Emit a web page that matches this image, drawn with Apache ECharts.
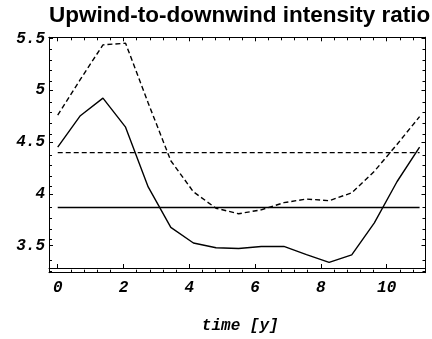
<!DOCTYPE html>
<html>
<head>
<meta charset="utf-8">
<script src="https://cdn.jsdelivr.net/npm/echarts@6/dist/echarts.min.js"></script>
<style>
  html, body { margin: 0; padding: 0; background: #fff; }
  #chart { width: 432px; height: 339px; }
</style>
</head>
<body>
<div id="chart"></div>
<script>
// Sample times in years
const times = [0, 0.6875, 1.375, 2.0625, 2.75, 3.4375, 4.125, 4.8125, 5.5,
               6.1875, 6.875, 7.5625, 8.25, 8.9375, 9.625, 10.3125, 11];
// Intensity ratio curves
const ratioSolid = [4.453, 4.756, 4.926, 4.645, 4.068, 3.677, 3.526, 3.481, 3.474,
                    3.493, 3.493, 3.415, 3.339, 3.412, 3.721, 4.118, 4.453];
const ratioDashed = [4.762, 5.106, 5.440, 5.456, 4.879, 4.321, 4.021, 3.862, 3.809,
                     3.847, 3.916, 3.951, 3.935, 4.011, 4.219, 4.478, 4.747];
// Reference levels (horizontal lines)
const levelSolid = 3.869;
const levelDashed = 4.399;
// Tick positions
const xMajorTicks = [0, 2, 4, 6, 8, 10];
const xMinorTicks = [0.4, 0.8, 1.2, 1.6, 2.4, 2.8, 3.2, 3.6, 4.4, 4.8, 5.2, 5.6,
                     6.4, 6.8, 7.2, 7.6, 8.4, 8.8, 9.2, 9.6, 10.4, 10.8];
const yMajorTicks = [3.5, 4, 4.5, 5, 5.5];
const yMinorTicks = [3.3, 3.4, 3.6, 3.7, 3.8, 3.9, 4.1, 4.2, 4.3, 4.4, 4.6, 4.7,
                     4.8, 4.9, 5.1, 5.2, 5.3, 5.4];
const xRange = [-0.265, 11.18];
const yRange = [3.285, 5.513];

const monoFont = '"Liberation Mono", "DejaVu Sans Mono", monospace';

function pairs(xs, ys) { return xs.map((x, i) => [x, ys[i]]); }

const gridRect = { left: 49, right: 6.5, top: 37.3, bottom: 66.3, containLabel: false };

function xAxisDef(gridIndex, position, ticks, labels, extra) {
  return Object.assign({
    type: 'value', gridIndex, position, min: xRange[0], max: xRange[1],
    axisLine: { show: true, onZero: false, lineStyle: { color: '#000', width: 1 } },
    axisTick: { show: true, inside: true, length: ticks === xMajorTicks ? 4 : 3,
                customValues: ticks, lineStyle: { color: '#000', width: 1 } },
    axisLabel: labels ? {
      show: true, customValues: labels, margin: 12,
      fontFamily: monoFont, fontStyle: 'italic', fontWeight: 'bold', fontSize: 16, color: '#000'
    } : { show: false, customValues: ticks },
    splitLine: { show: false }
  }, extra || {});
}

function yAxisDef(gridIndex, position, ticks, labels) {
  return {
    type: 'value', gridIndex, position, min: yRange[0], max: yRange[1],
    axisLine: { show: true, onZero: false, lineStyle: { color: '#000', width: 1 } },
    axisTick: { show: true, inside: true, length: ticks === yMajorTicks ? 4 : 3,
                customValues: ticks, lineStyle: { color: '#000', width: 1 } },
    axisLabel: labels ? {
      show: true, customValues: labels, margin: 4,
      fontFamily: monoFont, fontStyle: 'italic', fontWeight: 'bold', fontSize: 16, color: '#000'
    } : { show: false, customValues: ticks },
    splitLine: { show: false }
  };
}

const chart = echarts.init(document.getElementById('chart'), null, { renderer: 'canvas' });

const solidStyle = { color: '#000', width: 1.4, type: 'solid' };
const dashedStyle = { color: '#000', width: 1.4, type: [5, 3] };

function lineSeries(data, style) {
  return {
    type: 'line', xAxisIndex: 0, yAxisIndex: 0, data,
    showSymbol: false, symbol: 'none', silent: true, animation: false,
    lineStyle: style
  };
}

chart.setOption({
  animation: false,
  backgroundColor: '#fff',
  title: {
    text: 'Upwind-to-downwind intensity ratio',
    left: 44, top: -1,
    textStyle: { fontFamily: '"Liberation Sans", Arial, sans-serif', fontWeight: 'bold',
                 fontSize: 22.5, color: '#000' }
  },
  grid: [Object.assign({}, gridRect), Object.assign({}, gridRect)],
  xAxis: [
    xAxisDef(0, 'bottom', xMajorTicks, xMajorTicks, {
      name: 'time [y]', nameLocation: 'middle', nameGap: 50,
      nameTextStyle: { fontFamily: monoFont, fontStyle: 'italic', fontWeight: 'bold',
                       fontSize: 16, color: '#000', padding: [0, 0, 0, 6] }
    }),
    xAxisDef(0, 'top', xMajorTicks, null),
    xAxisDef(1, 'bottom', xMinorTicks, null),
    xAxisDef(1, 'top', xMinorTicks, null)
  ],
  yAxis: [
    yAxisDef(0, 'left', yMajorTicks, yMajorTicks),
    yAxisDef(0, 'right', yMajorTicks, null),
    yAxisDef(1, 'left', yMinorTicks, null),
    yAxisDef(1, 'right', yMinorTicks, null)
  ],
  series: [
    lineSeries(pairs(times, ratioDashed), dashedStyle),
    lineSeries(pairs(times, ratioSolid), solidStyle),
    lineSeries([[times[0], levelDashed], [times[times.length - 1], levelDashed]], dashedStyle),
    lineSeries([[times[0], levelSolid], [times[times.length - 1], levelSolid]], solidStyle)
  ]
});
</script>
</body>
</html>
